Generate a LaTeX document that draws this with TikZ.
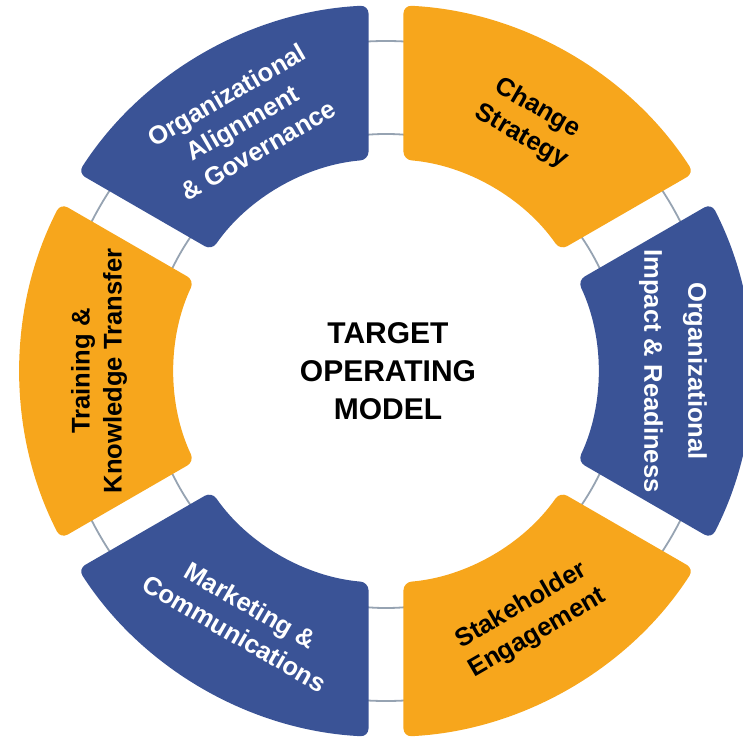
\documentclass[tikz,border=0pt]{standalone}
\usepackage{fontspec}
\setmainfont{Liberation Sans}
\definecolor{tomblue}{RGB}{58,83,150}
\definecolor{tomorange}{RGB}{247,166,28}
\definecolor{ringgray}{RGB}{150,163,178}

\begin{document}
\begin{tikzpicture}[
  seglabel/.style={align=center, font=\bfseries\fontsize{25.6}{32}\selectfont},
  segshape/.style={rounded corners=8pt},
  ring/.style={draw=ringgray, line width=1.8pt}
]
  \useasboundingbox (-386pt,-370pt) rectangle (357pt,371pt);
  % thin rings behind the wheel
  \draw[ring] (0,0) circle[radius=237pt];
  \draw[ring] (0,0) circle[radius=330pt];
  % six segments
  \foreach \ang/\fillc/\txtc/\rot/\name/\lab in {
    120/tomblue/white/30/Align/{Organizational\\Alignment\\\& Governance},
    60/tomorange/black/-30/Change/{Change\\Strategy},
    0/tomblue/white/-90/Impact/{Organizational\\[12pt]Impact \& Readiness},
    -60/tomorange/black/30/Engage/{Stakeholder\\Engagement},
    -120/tomblue/white/-30/Market/{Marketing \&\\Communications},
    180/tomorange/black/90/Train/{Training \&\\Knowledge Transfer}} {
    \fill[segshape, \fillc] (\ang-27.26:366pt)
      arc[start angle=\ang-27.26, end angle=\ang+27.26, radius=366pt]
      -- (\ang+25.27:212pt)
      arc[start angle=\ang+25.27, end angle=\ang-25.27, radius=212pt]
      -- cycle;
    \node[seglabel, text=\txtc, rotate=\rot] (\name) at (\ang:287pt) {\lab};
  }
  \node[align=center, font=\bfseries\fontsize{30}{38}\selectfont] (TOM) at (2pt,0) {TARGET\\OPERATING\\MODEL};
\end{tikzpicture}
\end{document}
